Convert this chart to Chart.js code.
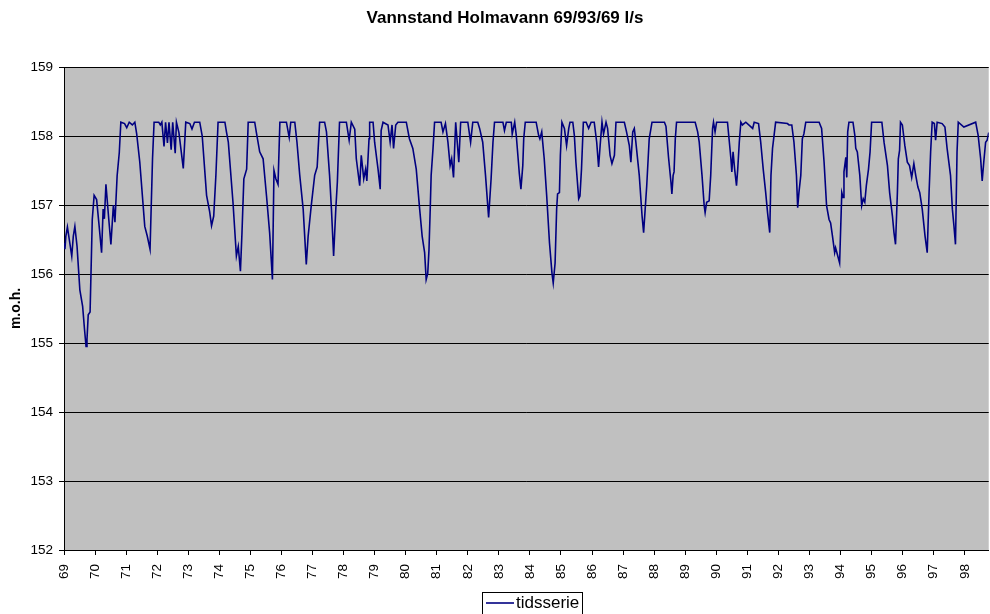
<!DOCTYPE html>
<html>
<head>
<meta charset="utf-8">
<script src="https://cdn.jsdelivr.net/npm/chart.js@4.4.1/dist/chart.umd.min.js"></script>
<style>
  html, body { margin: 0; padding: 0; background: #fff; }
  #wrap { width: 990px; height: 614px; position: relative; }
</style>
</head>
<body>
<div id="wrap"><canvas id="chart"></canvas></div>
<script>
const titleText = 'Vannstand Holmavann 69/93/69 l/s';
const seriesName = 'tidsserie';
const yearLabels = ['69','70','71','72','73','74','75','76','77','78','79','80','81','82','83',
                    '84','85','86','87','88','89','90','91','92','93','94','95','96','97','98'];

// time in years (69.00 = start of 1969)
const years = [
  69.00,69.03,69.06,69.11,69.17,69.25,69.30,69.35,69.42,69.51,69.60,69.66,69.71,69.74,69.78,69.84,69.91,69.97,
  70.05,70.13,70.21,70.26,70.30,70.35,70.44,70.51,70.59,70.64,70.71,70.78,70.83,70.95,
  71.02,71.10,71.20,71.28,71.34,71.44,71.60,71.68,71.77,71.85,71.90,
  72.05,72.10,72.15,72.22,72.27,72.33,72.38,72.45,72.50,72.58,72.62,72.70,72.84,72.92,
  73.05,73.12,73.20,73.37,73.45,73.59,73.69,73.75,73.82,73.89,73.96,
  74.18,74.23,74.29,74.44,74.55,74.61,74.68,74.73,74.79,74.88,74.93,
  75.14,75.19,75.30,75.41,75.52,75.62,75.71,75.76,75.82,75.89,75.95,
  76.16,76.25,76.30,76.43,76.50,76.59,76.70,76.80,76.86,76.96,
  77.07,77.15,77.23,77.39,77.45,77.55,77.61,77.68,77.75,77.80,77.87,
  78.09,78.18,78.25,78.36,78.41,78.52,78.57,78.65,78.71,78.75,78.82,78.84,78.95,
  79.00,79.11,79.18,79.21,79.27,79.43,79.50,79.56,79.61,79.68,79.75,
  80.02,80.12,80.23,80.34,80.45,80.53,80.61,80.66,80.71,80.75,80.79,80.82,80.88,80.93,
  81.14,81.20,81.28,81.36,81.43,81.48,81.54,81.61,81.66,81.71,81.77,
  82.00,82.09,82.16,82.32,82.38,82.48,82.57,82.67,82.75,82.81,82.86,
  83.13,83.18,83.24,83.40,83.43,83.51,83.56,83.66,83.71,83.77,83.80,83.85,
  84.20,84.28,84.32,84.38,84.46,84.54,84.63,84.71,84.75,84.81,84.86,84.89,84.95,84.98,
  85.03,85.11,85.18,85.25,85.29,85.38,85.43,85.48,85.57,85.61,85.66,85.72,85.81,85.89,85.97,
  86.07,86.15,86.21,86.26,86.32,86.37,86.45,86.50,86.58,86.64,86.72,86.77,
  87.04,87.11,87.20,87.25,87.31,87.36,87.41,87.52,87.61,87.66,87.71,87.76,87.84,87.93,
  88.33,88.38,88.46,88.54,88.57,88.61,88.64,88.68,88.72,
  89.32,89.40,89.45,89.54,89.61,89.64,89.69,89.77,89.82,89.88,89.91,89.96,
  90.01,90.36,90.41,90.47,90.50,90.54,90.59,90.65,90.69,90.74,90.79,90.84,90.95,
  91.17,91.22,91.36,91.43,91.51,91.59,91.65,91.72,91.76,91.81,91.86,91.91,
  92.29,92.34,92.43,92.50,92.58,92.62,92.66,92.72,92.77,92.82,92.88,
  93.31,93.39,93.47,93.55,93.63,93.68,93.74,93.81,93.84,93.90,93.97,
  94.00,94.04,94.08,94.11,94.17,94.20,94.23,94.27,94.40,94.46,94.49,94.54,94.62,94.68,94.73,94.78,94.83,94.90,94.95,
  95.00,95.33,95.40,95.51,95.58,95.67,95.72,95.77,95.83,95.86,95.90,95.93,95.99,
  96.07,96.15,96.22,96.29,96.36,96.42,96.49,96.55,96.63,96.72,96.79,96.85,96.90,96.95,
  97.02,97.06,97.11,97.27,97.36,97.43,97.54,97.60,97.65,97.70,97.75,97.79,97.97,
  98.35,98.43,98.51,98.56,98.61,98.67,98.72,98.77
];

// water level, m.o.h.
const levels = [
  156.45,156.36,156.55,156.68,156.50,156.26,156.55,156.69,156.40,155.77,155.53,155.20,154.95,155.05,155.41,155.45,156.79,157.14,
  157.08,156.70,156.31,156.94,156.80,157.30,156.80,156.43,157.00,156.75,157.42,157.76,158.20,158.18,
  158.12,158.20,158.16,158.20,158.03,157.62,156.69,156.55,156.36,157.67,158.20,
  158.20,158.16,158.20,157.85,158.20,157.90,158.20,157.80,158.20,157.75,158.20,158.05,157.53,158.20,
  158.18,158.10,158.20,158.20,158.00,157.14,156.90,156.70,156.84,157.43,158.20,
  158.20,158.06,157.91,157.04,156.26,156.40,156.04,156.60,157.38,157.52,158.20,
  158.20,158.06,157.77,157.67,157.13,156.60,155.92,157.50,157.38,157.30,158.20,
  158.20,157.98,158.20,158.20,157.91,157.43,156.94,156.14,156.55,156.99,
  157.43,157.55,158.20,158.20,158.06,157.43,156.94,156.26,156.94,157.33,158.20,
  158.20,157.94,158.20,158.10,157.67,157.28,157.72,157.38,157.52,157.35,157.96,158.20,158.20,
  157.91,157.52,157.23,158.08,158.20,158.16,157.91,158.16,157.82,158.16,158.20,
  158.20,157.96,157.82,157.52,156.94,156.55,156.31,155.92,156.01,156.35,156.94,157.43,157.82,158.20,
  158.20,158.06,158.18,157.91,157.57,157.67,157.40,158.20,157.91,157.62,158.20,
  158.20,157.91,158.20,158.20,158.11,157.91,157.43,156.82,157.38,157.91,158.20,
  158.20,158.08,158.20,158.20,158.03,158.20,158.01,157.45,157.23,157.57,157.96,158.20,
  158.20,158.01,157.96,158.06,157.67,157.13,156.45,156.01,155.87,156.16,156.94,157.16,157.18,157.72,
  158.20,158.11,157.86,158.11,158.20,158.20,158.01,157.62,157.09,157.13,157.52,158.20,158.20,158.11,158.20,
  158.20,157.91,157.55,157.86,158.20,158.03,158.20,158.11,157.72,157.60,157.72,158.20,
  158.20,158.06,157.86,157.62,158.06,158.11,157.91,157.43,156.84,156.60,156.94,157.28,157.96,158.20,
  158.20,158.14,157.70,157.33,157.16,157.43,157.48,157.96,158.20,
  158.20,158.06,157.91,157.43,156.99,156.89,157.04,157.06,157.43,158.11,158.20,158.06,
  158.20,158.20,157.96,157.67,157.48,157.77,157.52,157.28,157.52,157.91,158.20,158.16,158.20,
  158.11,158.20,158.18,157.91,157.52,157.18,156.89,156.60,157.43,157.82,158.01,158.20,
  158.18,158.16,158.16,157.91,157.43,156.96,157.18,157.43,157.96,158.03,158.20,
  158.20,158.11,157.62,156.99,156.79,156.74,156.55,156.31,156.38,156.28,156.16,
  156.60,157.18,157.11,157.48,157.69,157.40,158.06,158.20,158.20,158.01,157.82,157.77,157.43,156.99,157.09,157.04,157.28,157.52,157.77,
  158.20,158.20,157.91,157.57,157.18,156.84,156.60,156.43,157.18,157.67,157.79,158.20,158.16,
  157.86,157.62,157.57,157.40,157.60,157.43,157.26,157.18,156.94,156.55,156.31,157.18,157.77,158.20,
  158.18,157.94,158.20,158.18,158.13,157.82,157.43,156.94,156.70,156.43,157.77,158.20,158.13,
  158.20,158.01,157.67,157.35,157.62,157.91,157.94,158.05
];

const yMin = 152, yMax = 159;
const xMin = 69, xMax = 98.77;
const lineColor = '#000080';
const fontFamily = '"Liberation Sans", Arial, sans-serif';

Chart.defaults.font.family = fontFamily;
Chart.defaults.color = '#000';

// grey plot area like the spreadsheet chart
const plotBackground = {
  id: 'plotBackground',
  beforeDraw(chart) {
    const a = chart.chartArea;
    const ctx = chart.ctx;
    ctx.save();
    ctx.fillStyle = '#c0c0c0';
    ctx.fillRect(a.left, a.top, a.right - a.left, a.bottom - a.top);
    ctx.restore();
  }
};

// title, a little right of the page centre as in the original
const chartTitle = {
  id: 'chartTitle',
  afterDraw(chart) {
    const ctx = chart.ctx;
    ctx.save();
    ctx.font = 'bold 17px ' + fontFamily;
    ctx.fillStyle = '#000';
    ctx.textAlign = 'center';
    ctx.textBaseline = 'alphabetic';
    ctx.fillText(titleText, 505, 23);
    ctx.restore();
  }
};

// framed legend under the axis labels, a bit right of the plot centre
const frameLegend = {
  id: 'frameLegend',
  afterDraw(chart) {
    const ctx = chart.ctx;
    const a = chart.chartArea;
    ctx.save();
    ctx.font = '17px ' + fontFamily;
    const tw = ctx.measureText(seriesName).width;
    const lineW = 28, gap = 2, padL = 4, padR = 3;
    const w = padL + lineW + gap + tw + padR;
    const x0 = Math.round((a.left + a.right) / 2 + 6 - w / 2);
    const cy = 603;
    ctx.strokeStyle = '#000';
    ctx.lineWidth = 1;
    ctx.strokeRect(x0 + 0.5, 592.5, Math.round(w), 30);
    ctx.strokeStyle = lineColor;
    ctx.lineWidth = 1.6;
    ctx.beginPath();
    ctx.moveTo(x0 + padL, cy);
    ctx.lineTo(x0 + padL + lineW, cy);
    ctx.stroke();
    ctx.fillStyle = '#000';
    ctx.textAlign = 'left';
    ctx.textBaseline = 'middle';
    ctx.fillText(seriesName, x0 + padL + lineW + gap, cy);
    ctx.restore();
  }
};

new Chart(document.getElementById('chart'), {
  type: 'line',
  data: {
    datasets: [{
      label: seriesName,
      data: years.map((x, i) => ({ x: x, y: levels[i] })),
      borderColor: lineColor,
      backgroundColor: lineColor,
      borderWidth: 1.6,
      pointRadius: 0,
      tension: 0,
      fill: false
    }]
  },
  options: {
    responsive: true,
    maintainAspectRatio: false,
    animation: false,
    layout: { padding: { top: 67, right: 0, bottom: 0, left: 0 } },
    plugins: {
      title: { display: false },
      tooltip: { enabled: false },
      legend: { display: false }
    },
    scales: {
      x: {
        type: 'linear',
        min: xMin,
        max: xMax,
        afterBuildTicks(axis) {
          axis.ticks = yearLabels.map(l => ({ value: Number(l) }));
        },
        afterFit(axis) { axis.height = 64; },
        ticks: {
          autoSkip: false,
          minRotation: 90,
          maxRotation: 90,
          padding: 9,
          font: { size: 13.5 },
          color: '#000',
          callback: (value, index) => yearLabels[index]
        },
        grid: { drawOnChartArea: false, drawTicks: true, tickLength: 5, tickColor: '#000' },
        border: { display: true, color: '#000', width: 1 }
      },
      y: {
        min: yMin,
        max: yMax,
        afterFit(axis) { axis.width = 64; },
        ticks: { stepSize: 1, padding: 6, font: { size: 13.5 }, color: '#000' },
        grid: { color: '#000', lineWidth: 1, tickLength: 5, tickColor: '#000' },
        border: { display: true, color: '#000', width: 1 },
        title: {
          display: true,
          text: 'm.o.h.',
          font: { size: 14, weight: 'bold' },
          color: '#000',
          padding: { top: 8, bottom: 0 }
        }
      }
    }
  },
  plugins: [plotBackground, chartTitle, frameLegend]
});
</script>
</body>
</html>
